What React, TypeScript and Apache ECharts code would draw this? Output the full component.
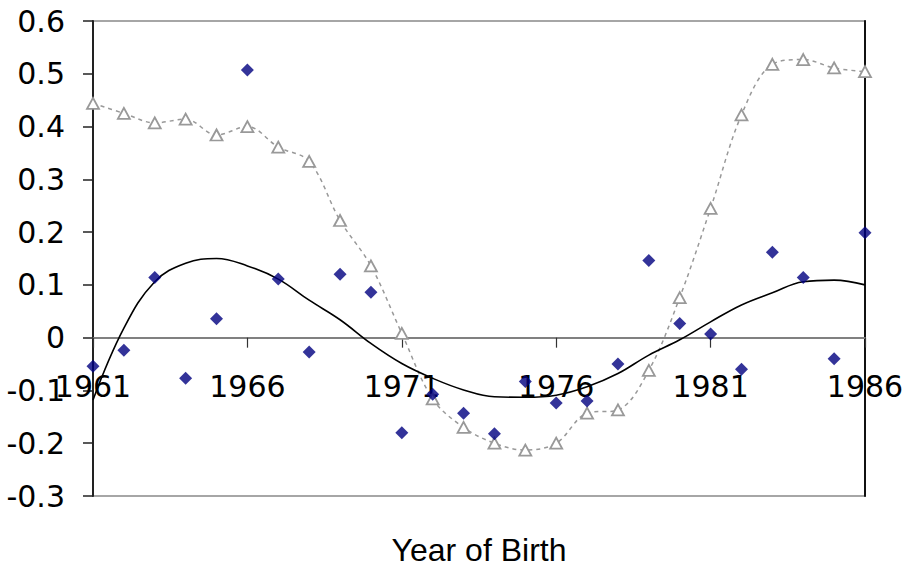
import React, { useEffect, useRef } from "react";
import * as echarts from "echarts";

const years = [
  "1961", "1962", "1963", "1964", "1965", "1966", "1967", "1968", "1969", "1970",
  "1971", "1972", "1973", "1974", "1975", "1976", "1977", "1978", "1979", "1980",
  "1981", "1982", "1983", "1984", "1985", "1986",
];

const diamondValues = [
  -0.054, -0.024, 0.114, -0.077, 0.036, 0.507, 0.111, -0.027, 0.12, 0.086,
  -0.18, -0.107, -0.143, -0.182, -0.083, -0.124, -0.12, -0.05, 0.146, 0.027,
  0.007, -0.06, 0.162, 0.114, -0.04, 0.199,
];

const triangleValues = [
  0.444, 0.425, 0.407, 0.414, 0.384, 0.4, 0.361, 0.334, 0.222, 0.136,
  0.008, -0.116, -0.17, -0.2, -0.213, -0.2, -0.143, -0.137, -0.062, 0.076,
  0.245, 0.422, 0.518, 0.527, 0.511, 0.504,
];

const trendValues = [
  -0.118, 0.018, 0.106, 0.141, 0.15, 0.136, 0.111, 0.071, 0.034, -0.011,
  -0.049, -0.077, -0.099, -0.112, -0.113, -0.109, -0.093, -0.068, -0.033, -0.004,
  0.03, 0.062, 0.085, 0.106, 0.109, 0.1,
];

const yMin = -0.3;
const yMax = 0.6;
const yStep = 0.1;
const xLabelEvery = 5;
const xTitle = "Year of Birth";

const TICK_FONT = "'DejaVu Sans', sans-serif";
const TITLE_FONT = "'Liberation Sans', Arial, sans-serif";

const GRID_TOP = 21;
const GRID_BOTTOM = 71;
const CHART_H = 567;

export default function App() {
  const ref = useRef<HTMLDivElement>(null);

  useEffect(() => {
    if (!ref.current) return;
    const chart = echarts.init(ref.current, undefined, { renderer: "svg" });
    const plotH = CHART_H - GRID_TOP - GRID_BOTTOM;
    const zeroFromBottom = plotH * ((0 - yMin) / (yMax - yMin));
    chart.setOption({
      animation: false,
      backgroundColor: "#ffffff",
      grid: {
        left: 93,
        right: 38,
        top: GRID_TOP,
        bottom: GRID_BOTTOM,
        show: true,
        borderColor: "#a6a6a6",
        borderWidth: 2,
        outerBoundsMode: "none",
      },
      xAxis: {
        type: "category",
        data: years,
        boundaryGap: false,
        offset: -zeroFromBottom,
        axisLine: { onZero: false, lineStyle: { color: "#808080", width: 2 } },
        axisTick: {
          show: true,
          interval: xLabelEvery - 1,
          length: 10,
          lineStyle: { color: "#333333", width: 1.2 },
        },
        axisLabel: {
          interval: xLabelEvery - 1,
          margin: 34,
          fontSize: 30,
          color: "#000000",
          fontFamily: TICK_FONT,
          showMinLabel: true,
          showMaxLabel: true,
        },
        splitLine: { show: false },
      },
      yAxis: [
        {
          type: "value",
          min: yMin,
          max: yMax,
          interval: yStep,
          axisLine: { show: true, onZero: false, lineStyle: { color: "#222222", width: 2 } },
          axisTick: { show: true, length: 10, lineStyle: { color: "#222222", width: 1.5 } },
          axisLabel: {
            margin: 28,
            fontSize: 30,
            color: "#000000",
            fontFamily: TICK_FONT,
            formatter: (v: number) => String(Math.round(v * 10) / 10),
          },
          splitLine: { show: false },
        },
        {
          type: "value",
          position: "right",
          min: yMin,
          max: yMax,
          interval: yStep,
          axisLine: { show: true, onZero: false, lineStyle: { color: "#111111", width: 2 } },
          axisTick: { show: false },
          axisLabel: { show: false },
          splitLine: { show: false },
        },
      ],
      series: [
        {
          type: "line",
          data: triangleValues,
          smooth: 0.35,
          symbol: "triangle",
          symbolSize: [12, 11],
          showAllSymbol: true,
          lineStyle: { color: "#999999", width: 1.5, type: [4, 4] },
          itemStyle: { color: "#ffffff", borderColor: "#999999", borderWidth: 1.8 },
          z: 2,
        },
        {
          type: "line",
          data: trendValues,
          smooth: 0.4,
          symbol: "none",
          lineStyle: { color: "#000000", width: 1.6 },
          z: 3,
        },
        {
          type: "scatter",
          data: diamondValues,
          symbol: "diamond",
          symbolSize: 13,
          itemStyle: { color: "#000080" },
          z: 4,
        },
      ],
      graphic: [
        {
          type: "text",
          x: 479,
          y: 550,
          style: {
            text: xTitle,
            fontSize: 32,
            lineHeight: 32,
            fontFamily: TITLE_FONT,
            fill: "#000000",
            align: "center",
            verticalAlign: "middle",
          },
        },
      ],
    });
    return () => chart.dispose();
  }, []);

  return (
    <div
      ref={ref}
      style={{ position: "fixed", left: 0, top: 0, width: 903, height: 567, background: "#fff" }}
    />
  );
}
